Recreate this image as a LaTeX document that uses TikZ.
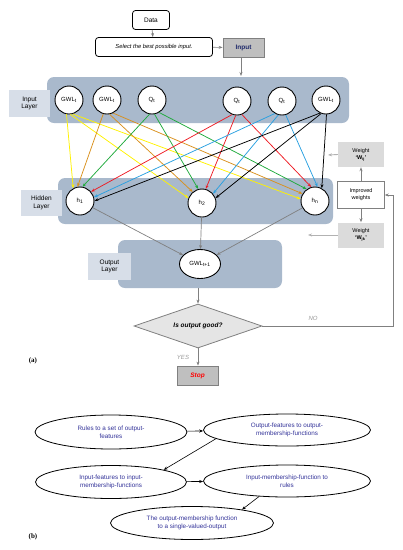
\documentclass[tikz,border=0pt]{standalone}
\usepackage{fontspec}
\setmainfont{Liberation Sans}
\newfontfamily\serifb{Liberation Serif}
\usetikzlibrary{shapes.geometric,arrows.meta}
\definecolor{panelc}{HTML}{A9B9CC}
\definecolor{lblc}{HTML}{D7DEE8}
\definecolor{navy}{HTML}{1F2A6B}
\definecolor{txtb}{HTML}{333399}
\definecolor{conn}{HTML}{808080}
\definecolor{cyel}{HTML}{FFF200}
\definecolor{cora}{HTML}{D9901C}
\definecolor{cgre}{HTML}{1FAA3C}
\definecolor{cred}{HTML}{EE1C24}
\definecolor{cblu}{HTML}{29A0E0}
\tikzset{
  rbox/.style={draw=black, thick, rounded corners=3pt, fill=white, inner sep=0pt, font=\fontsize{6.5}{7}\selectfont},
  graybox/.style={draw=conn, thick, fill=black!25, inner sep=0pt, minimum width=41, minimum height=19},
  panel/.style={fill=panelc, rounded corners=7pt, inner sep=0pt},
  lbl/.style={fill=lblc, inner sep=0pt, align=center, font=\fontsize{6.5}{7.5}\selectfont},
  neuron/.style={circle, draw=black, line width=0.9pt, fill=white, minimum size=28, inner sep=0pt, font=\fontsize{6}{7}\selectfont},
  wbox/.style={fill=black!14, inner sep=0pt, minimum width=46, minimum height=25, align=center, font=\fontsize{5.5}{7}\selectfont},
  ibox/.style={draw=conn, fill=white, inner sep=0pt, minimum width=47, minimum height=27, align=center, font=\fontsize{5.5}{7}\selectfont},
  arr/.style={-{Stealth[length=4pt,width=3pt]}},
  garr/.style={arr, draw=conn, line width=0.7pt},
  larr/.style={arr, draw=black!30, line width=0.9pt},
  carr/.style={arr, line width=0.75pt},
  ell/.style={ellipse, draw=black, thick, fill=white, inner sep=0pt, align=center, text=txtb, font=\fontsize{6.3}{7.6}\selectfont},
  barr/.style={-{Stealth[length=4pt,width=3pt]}, draw=black, line width=0.6pt},
  glabel/.style={text=black!40, font=\itshape\fontsize{6}{7}\selectfont},
}
\begin{document}
\begin{tikzpicture}[x=1pt,y=-1pt]
\useasboundingbox (0,0) rectangle (403,550);
% top boxes
\node[rbox, minimum width=37, minimum height=19] (data) at (151,20) {Data};
\node[rbox, minimum width=117, minimum height=19] (sel) at (154,47) {\itshape\fontsize{5.8}{7}\selectfont Select the best possible input.};
\node[graybox] (inp) at (243.5,47.5) {\bfseries\color{navy}\fontsize{6.5}{7}\selectfont Input};
\draw[garr] (data) -- (sel);
\draw[garr] (sel) -- (inp);
% panels
\node[panel, minimum width=302, minimum height=46] (ipanel) at (198,100) {};
\node[panel, minimum width=275, minimum height=46] (hpanel) at (195.5,201) {};
\node[panel, minimum width=164, minimum height=48] (opanel) at (200,264) {};
\node[lbl, minimum width=41, minimum height=27] (ilabel) at (29.5,103.5) {Input\\Layer};
\node[lbl, minimum width=41, minimum height=26] (hlabel) at (41.5,203) {Hidden\\Layer};
\node[lbl, minimum width=43, minimum height=27] (olabel) at (109.5,266.5) {Output\\Layer};
\coordinate (inpin) at (241,76);
\draw[garr] (inp.south -| inpin) -- (inpin);
% neurons
\node[neuron] (i1) at (69,100) {GWL\textsubscript{t}};
\node[neuron] (i2) at (107,100) {GWL\textsubscript{t}};
\node[neuron] (i3) at (152,100) {Q\textsubscript{t}};
\node[neuron] (i4) at (237,101) {Q\textsubscript{t}};
\node[neuron] (i5) at (282,101) {Q\textsubscript{t}};
\node[neuron] (i6) at (326,100) {GWL\textsubscript{t}};
\node[neuron] (h1) at (80,201) {h\textsubscript{1}};
\node[neuron] (h2) at (202,203) {h\textsubscript{2}};
\node[neuron] (h3) at (315,201) {h\textsubscript{n}};
\node[ellipse, draw=black, line width=0.9pt, fill=white, minimum width=41, minimum height=29, inner sep=0pt, font=\fontsize{6}{7}\selectfont] (out) at (200,264) {GWL\textsubscript{t+1}};
% input -> hidden connections
\draw[carr, cyel] (i1.-100) -- (h1.118);
\draw[carr, cyel] (i1.-85) -- (h2.160);
\draw[carr, cyel] (i1.-75) -- (h3.172);
\draw[carr, cora] (i2.-105) -- (h1.100);
\draw[carr, cora] (i2.-80) -- (h2.130);
\draw[carr, cora] (i2.-65) -- (h3.150);
\draw[carr, cgre] (i3.-100) -- (h1.80);
\draw[carr, cgre] (i3.-80) -- (h2.105);
\draw[carr, cgre] (i3.-60) -- (h3.125);
\draw[carr, cred] (i4.-110) -- (h1.40);
\draw[carr, cred] (i4.-95) -- (h2.75);
\draw[carr, cred] (i4.-70) -- (h3.105);
\draw[carr, cblu] (i5.-120) -- (h1.15);
\draw[carr, cblu] (i5.-105) -- (h2.40);
\draw[carr, cblu] (i5.-75) -- (h3.80);
\draw[carr, black] (i6.-115) -- (h1.0);
\draw[carr, black] (i6.-110) -- (h2.20);
\draw[carr, black] (i6.-88) -- (h3.62);
% hidden -> output
\draw[garr] (h1) -- (out);
\draw[garr] (h2) -- (out);
\draw[garr] (h3) -- (out);
% weights
\node[ibox] (imp) at (361,195) {Improved\\weights};
\node[wbox] (wtop) at (361,154.5) {Weight\\\textbf{`W\textsubscript{ij}'}};
\node[wbox] (wbot) at (361,235) {Weight\\\textbf{`W\textsubscript{jk}'}};
\draw[garr] (imp) -- (wtop);
\draw[garr] (imp) -- (wbot);
\coordinate (wtopend) at (328,155);
\coordinate (wbotend) at (308,235);
\draw[larr] (wtop.west) -- (wtopend);
\draw[larr] (wbot.west) -- (wbotend);
% decision
\node[diamond, draw=conn, thick, fill=black!10, minimum width=128, minimum height=44, aspect=2.9, inner sep=0pt, font=\bfseries\itshape\fontsize{6.5}{7}\selectfont] (dec) at (198,326) {Is output good?};
\draw[garr] (opanel.south -| dec) -- (dec.north);
\node[graybox] (stop) at (197.5,375.5) {\bfseries\itshape\color{red}\fontsize{6.5}{7}\selectfont Stop};
\draw[garr] (dec.south) -- (stop.north -| dec);
\node[glabel] (yes) at (183,357) {YES};
\node[glabel] (no) at (313,318) {NO};
\coordinate (loopc) at (393,326);
\draw[garr] (dec.east) -- (loopc) |- (imp.east);
\node[font=\serifb\bfseries\fontsize{7}{8}\selectfont] (la) at (33,361) {(a)};
% part b
\node[ell, minimum width=152, minimum height=34] (e1) at (111,432) {Rules to a set of output-\\features};
\node[ell, minimum width=167, minimum height=32] (e2) at (287,430) {Output-features to output-\\membership-functions};
\node[ell, minimum width=151, minimum height=33] (e3) at (111,482) {Input-features to input-\\membership-functions};
\node[ell, minimum width=167, minimum height=32] (e4) at (287,481) {Input-membership-function to\\rules};
\node[ell, minimum width=163, minimum height=33] (e5) at (192,523) {The output-membership function\\to a single-valued-output};
\draw[barr] (e1) -- (e2);
\draw[barr] (e2.187) -- (e3.13);
\draw[barr] (e3) -- (e4);
\draw[barr] (e4.209) -- (e5.15);
\node[font=\serifb\bfseries\fontsize{7}{8}\selectfont] (lb) at (33,537) {(b)};
\end{tikzpicture}
\end{document}
